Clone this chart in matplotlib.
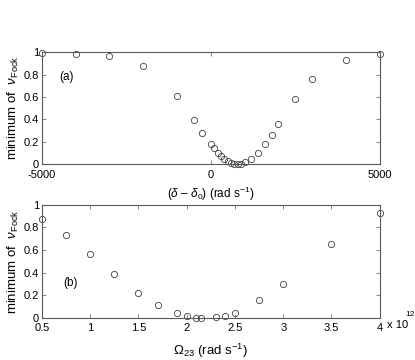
import numpy as np
import matplotlib
matplotlib.use('Agg')
import matplotlib.pyplot as plt

plt.rcParams['font.family'] = ['Liberation Sans', 'DejaVu Sans']
plt.rcParams['mathtext.fontset'] = 'custom'
plt.rcParams['mathtext.rm'] = 'Liberation Sans'
plt.rcParams['mathtext.it'] = 'Liberation Sans:italic'

# panel (a): detuning scan
detuning = [-5000, -4000, -3000, -2000, -1000, -500, -250, 0, 100, 200, 300,
            400, 500, 600, 700, 800, 900, 1000, 1200, 1400, 1600, 1800, 2000,
            2500, 3000, 4000, 5000]
nu_min_a = [0.994, 0.988, 0.964, 0.875, 0.61, 0.396, 0.28, 0.176, 0.14, 0.104,
            0.071, 0.045, 0.024, 0.009, 0.003, 0.002, 0.003, 0.015, 0.05, 0.104,
            0.179, 0.262, 0.357, 0.583, 0.762, 0.93, 0.982]

# panel (b): coupling Rabi frequency scan (units of 1e12 rad/s)
omega23 = [0.5, 0.75, 1.0, 1.25, 1.5, 1.7, 1.9, 2.0, 2.1, 2.15, 2.3, 2.4, 2.5,
           2.75, 3.0, 3.5, 4.0]
nu_min_b = [0.873, 0.734, 0.565, 0.388, 0.222, 0.115, 0.041, 0.018, 0.003, 0.0,
            0.006, 0.021, 0.047, 0.154, 0.299, 0.651, 0.926]

a_xticks = [-5000, 0, 5000]
b_xticks = [0.5, 1, 1.5, 2, 2.5, 3, 3.5, 4]
yticks = [0, 0.2, 0.4, 0.6, 0.8, 1]
ytick_labels = ['0', '0.2', '0.4', '0.6', '0.8', '1']
b_xtick_labels = ['0.5', '1', '1.5', '2', '2.5', '3', '3.5', '4']

ylab = r'minimum of  $\nu_{\mathrm{Fock}}$'

fig = plt.figure(figsize=(4.15, 3.6), dpi=100)
ax1 = fig.add_axes([0.101, 0.544, 0.814, 0.311])
ax2 = fig.add_axes([0.101, 0.117, 0.814, 0.314])

def style(ax):
    for s in ax.spines.values():
        s.set_color('0.35')
        s.set_linewidth(0.8)
    ax.tick_params(direction='in', top=True, right=True, length=3, width=0.6,
                   color='0.45', labelsize=8, pad=2)
    ax.tick_params(axis='x', pad=4)
    ax.set_ylim(0, 1)
    ax.set_yticks(yticks)
    ax.set_yticklabels(ytick_labels)
    ax.set_ylabel(ylab, fontsize=9.5, labelpad=2)

ax1.plot(detuning, nu_min_a, 'o', mfc='none', mec='0.25', ms=4.5, mew=0.6, clip_on=False)
ax1.set_xlim(-5000, 5000)
ax1.set_xticks(a_xticks)
ax1.set_xticklabels(['-5000', '0', '5000'])
style(ax1)
ax1.set_xlabel(r'($\delta$ – $\delta_0$) (rad s$^{-1}$)', fontsize=8.5, labelpad=4)
ax1.text(-4500, 0.75, '(a)', fontsize=8.5)

ax2.plot(omega23, nu_min_b, 'o', mfc='none', mec='0.25', ms=4.5, mew=0.6, clip_on=False)
ax2.set_xlim(0.5, 4)
ax2.set_xticks(b_xticks)
ax2.set_xticklabels(b_xtick_labels)
style(ax2)
ax2.set_xlabel(r'$\Omega_{23}$ (rad s$^{-1}$)', fontsize=9.5, labelpad=6)
ax2.text(0.72, 0.28, '(b)', fontsize=8.5)
# exponent for the x axis of panel (b)
fig.text(0.932, 0.097, 'x 10', fontsize=8, va='center', ha='left')
fig.text(0.976, 0.125, '12', fontsize=6, va='center', ha='left')

fig.savefig('out.png', dpi=100)
